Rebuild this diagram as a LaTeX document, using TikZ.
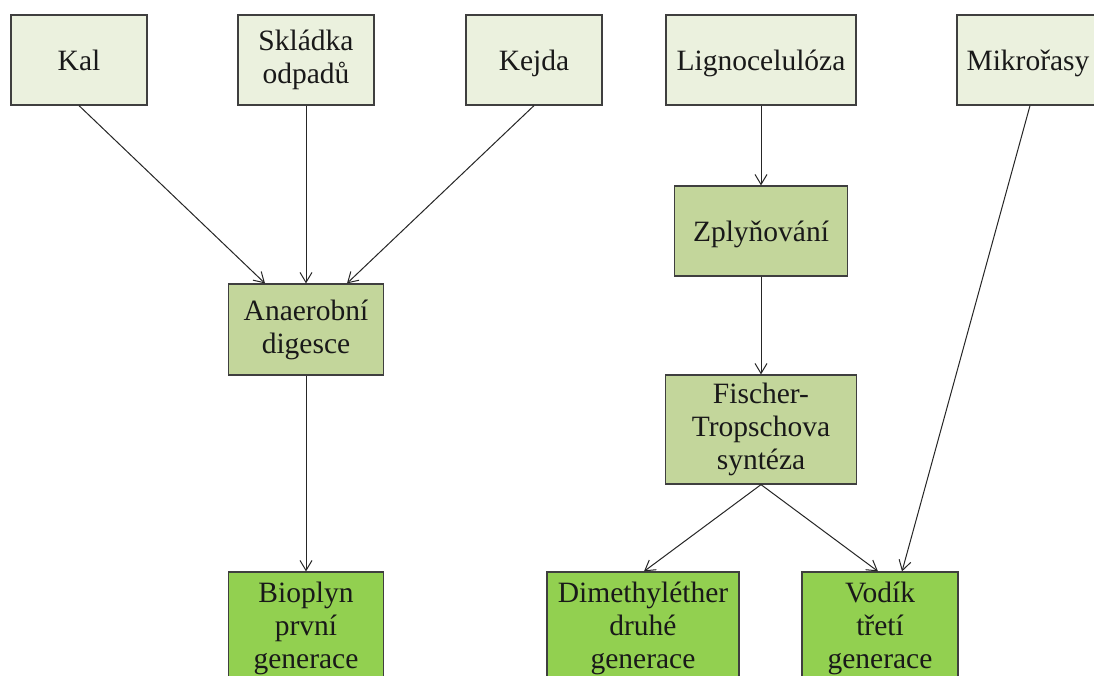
\documentclass[tikz,border=0pt]{standalone}
\usepackage{fontspec}
\setmainfont{Liberation Serif}
\usetikzlibrary{arrows.meta}
\definecolor{srcfill}{HTML}{EBF1DE}
\definecolor{procfill}{HTML}{C3D69B}
\definecolor{prodfill}{HTML}{92D050}
\definecolor{boxline}{HTML}{3F3F3F}
\definecolor{arrowline}{HTML}{262626}
\tikzset{
  box/.style={draw=boxline, line width=1.2pt, align=center, inner sep=2pt,
    font=\fontsize{29.5}{33}\selectfont, text=black!90},
  oneline/.style={text height=27pt, text depth=6pt},
  srcbox/.style={box, fill=srcfill},
  procbox/.style={box, fill=procfill},
  prodbox/.style={box, fill=prodfill},
  flow/.style={draw=arrowline, line width=1pt,
    -{Straight Barb[length=10pt,width=12pt,line width=1pt]}}
}
\begin{document}
\begin{tikzpicture}[x=1pt,y=-1pt]
\useasboundingbox (0,0) rectangle (1094,675);
\clip (0,0) rectangle (1094,675);
\fill[white] (0,0) rectangle (1094,675);

% feedstocks
\node[srcbox, oneline, minimum width=136pt, minimum height=90pt] (kal) at (79,60) {Kal};
\node[srcbox, minimum width=136pt, minimum height=90pt] (skl) at (306,60) {Skládka\\odpadů};
\node[srcbox, oneline, minimum width=136pt, minimum height=90pt] (kej) at (534,60) {Kejda};
\node[srcbox, oneline, minimum width=190pt, minimum height=90pt] (lig) at (761,60) {Lignocelulóza};
\node[srcbox, oneline, minimum width=142pt, minimum height=90pt] (mik) at (1028,60) {Mikrořasy};

% processes
\node[procbox, minimum width=155pt, minimum height=91pt] (ana) at (306,329.5) {Anaerobní\\digesce};
\node[procbox, oneline, minimum width=173pt, minimum height=90pt] (zpl) at (761,231) {Zplyňování};
\node[procbox, minimum width=191pt, minimum height=109pt] (fis) at (761,429.5) {Fischer-\\Tropschova\\syntéza};

% products
\node[prodbox, minimum width=155pt, minimum height=112pt] (bio) at (306,628) {Bioplyn\\první\\generace};
\node[prodbox, minimum width=192pt, minimum height=112pt] (dme) at (643,628) {Dimethyléther\\druhé\\generace};
\node[prodbox, minimum width=156pt, minimum height=112pt] (vod) at (880,628) {Vodík\\třetí\\generace};

% connectors
\draw[flow] (kal.south) -- ([xshift=-41pt]ana.north);
\draw[flow] (skl.south) -- (ana.north);
\draw[flow] (kej.south) -- ([xshift=41pt]ana.north);
\draw[flow] (ana.south) -- (bio.north);
\draw[flow] (lig.south) -- (zpl.north);
\draw[flow] (zpl.south) -- (fis.north);
\draw[flow] (fis.south) -- ([xshift=1pt]dme.north);
\draw[flow] (fis.south) -- ([xshift=-2pt]vod.north);
\draw[flow] ([xshift=2pt]mik.south) -- ([xshift=22pt]vod.north);
\end{tikzpicture}
\end{document}
